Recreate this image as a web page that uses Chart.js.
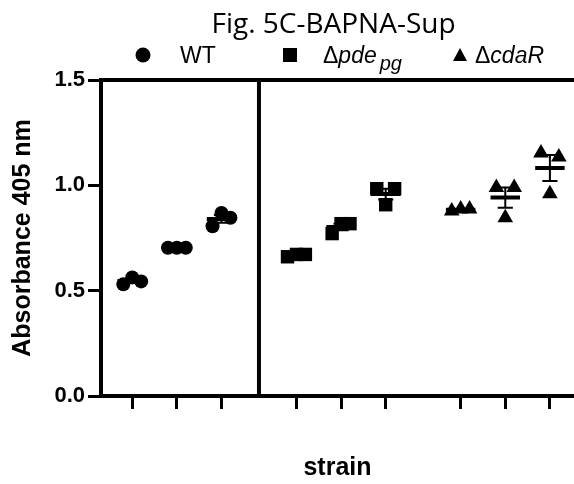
<!DOCTYPE html>
<html>
<head>
<meta charset="utf-8">
<script src="https://cdn.jsdelivr.net/npm/chart.js@4"></script>
<style>
  html, body { margin: 0; padding: 0; background: #fff; overflow: hidden; }
  canvas { display: block; }
</style>
</head>
<body>
<canvas id="bapnaSup" width="574" height="484"></canvas>
<script>
// x slots for the nine strains (3 x WT, 3 x Δpde_pg, 3 x ΔcdaR)
const slots = [1, 2, 3, 4.68, 5.68, 6.68, 8.36, 9.36, 10.36];

// replicate values
const wtValues = [[0.530, 0.563, 0.544], [0.704, 0.704, 0.704], [0.806, 0.869, 0.846]];
const pdeValues = [[0.661, 0.672, 0.672], [0.771, 0.818, 0.818], [0.984, 0.908, 0.984]];
const cdaValues = [[0.878, 0.888, 0.888], [0.990, 0.846, 0.990], [1.153, 0.960, 1.134]];

const yTicks = [0, 0.5, 1.0, 1.5];
const titleText = 'Fig. 5C-BAPNA-Sup';
const axisFont = '"Liberation Sans", Arial, sans-serif';

const jitter = [-0.2, 0, 0.2];
const meanHalf = 0.33;
const capHalf = 0.17;

const allGroups = wtValues.concat(pdeValues, cdaValues);

function toPoints(groups, first) {
    return groups.flatMap((g, i) => g.map((v, j) => ({ x: slots[first + i] + jitter[j], y: v })));
}

function mean(a) { return a.reduce((s, v) => s + v, 0) / a.length; }
function sem(a) {
    const m = mean(a);
    const sd = Math.sqrt(a.reduce((s, v) => s + (v - m) * (v - m), 0) / (a.length - 1));
    return sd / Math.sqrt(a.length);
}

const meanSegs = [];
const errSegs = [];
allGroups.forEach((g, i) => {
    const x = slots[i], m = mean(g), e = sem(g);
    meanSegs.push({ x: x - meanHalf, y: m }, { x: x + meanHalf, y: m }, { x: x, y: null });
    errSegs.push(
        { x: x - capHalf, y: m + e }, { x: x + capHalf, y: m + e }, { x: x, y: null },
        { x: x, y: m + e }, { x: x, y: m - e }, { x: x, y: null },
        { x: x - capHalf, y: m - e }, { x: x + capHalf, y: m - e }, { x: x, y: null }
    );
});

const xMin = 0.3, xMax = 10.9;
const divider = (slots[2] + slots[3]) / 2;

const pointBase = {
    backgroundColor: '#000',
    borderColor: '#000',
    borderWidth: 0,
    showLine: false
};

const lineBase = {
    borderColor: '#000',
    pointRadius: 0,
    showLine: true,
    spanGaps: false,
    clip: false
};

const titleLegend = {
    id: 'titleLegend',
    afterDraw(chart) {
        const ctx = chart.ctx;
        const area = chart.chartArea;
        ctx.save();
        ctx.fillStyle = '#000';
        ctx.textBaseline = 'alphabetic';
        ctx.textAlign = 'center';
        ctx.font = '28px "Open Sans", sans-serif';
        ctx.fillText(titleText, (area.left + area.right) / 2 - 4, 33);

        const my = 55, base = 63;
        // circle
        ctx.beginPath();
        ctx.arc(143, my, 7.5, 0, Math.PI * 2);
        ctx.fill();
        // square
        ctx.fillRect(283, my - 7, 14, 14);
        // triangle
        ctx.beginPath();
        ctx.moveTo(460, my - 7);
        ctx.lineTo(467, my + 6);
        ctx.lineTo(453, my + 6);
        ctx.closePath();
        ctx.fill();

        ctx.textAlign = 'left';
        ctx.font = '23px ' + axisFont;
        ctx.fillText('WT', 180, base);

        let x = 323;
        ctx.fillText('Δ', x, base);
        x += ctx.measureText('Δ').width;
        ctx.font = 'italic 23px ' + axisFont;
        ctx.fillText('pde', x, base);
        x += ctx.measureText('pde').width;
        ctx.font = 'italic 20px ' + axisFont;
        ctx.fillText('pg', x + 3, base + 7);

        x = 475;
        ctx.font = '23px ' + axisFont;
        ctx.fillText('Δ', x, base);
        x += ctx.measureText('Δ').width;
        ctx.font = 'italic 23px ' + axisFont;
        ctx.fillText('cdaR', x, base);
        ctx.restore();
    }
};

const ctxBapna = document.getElementById('bapnaSup');

const configBapna = {
    type: 'scatter',
    data: {
        datasets: [
            { ...pointBase, label: 'WT', data: toPoints(wtValues, 0), pointStyle: 'circle', pointRadius: 7 },
            { ...pointBase, label: 'Δpde_pg', data: toPoints(pdeValues, 3), pointStyle: 'rect', pointRadius: 9.5 },
            { ...pointBase, label: 'ΔcdaR', data: toPoints(cdaValues, 6), pointStyle: 'triangle', pointRadius: 9 },
            { ...lineBase, label: 'mean', data: meanSegs, borderWidth: 4 },
            { ...lineBase, label: 'sem', data: errSegs, borderWidth: 2 },
            { ...lineBase, label: 'divider', data: [{ x: divider, y: 0 }, { x: divider, y: 1.5 }], borderWidth: 4 },
            { ...lineBase, label: 'top', data: [{ x: xMin, y: 1.5 }, { x: xMax, y: 1.5 }], borderWidth: 4 }
        ]
    },
    plugins: [titleLegend],
    options: {
        responsive: false,
        animation: false,
        devicePixelRatio: 1,
        layout: { autoPadding: false, padding: { top: 80, left: 0, right: 0, bottom: 0 } },
        plugins: {
            legend: { display: false },
            title: { display: false },
            tooltip: { enabled: false }
        },
        scales: {
            x: {
                type: 'linear',
                min: xMin,
                max: xMax,
                afterBuildTicks: s => { s.ticks = slots.map(v => ({ value: v })); },
                afterFit: s => { s.height = 88; },
                ticks: { display: false },
                grid: { drawOnChartArea: false, drawTicks: true, tickLength: 13, tickWidth: 3, tickColor: '#000' },
                border: { color: '#000', width: 4 },
                title: {
                    display: true,
                    text: 'strain',
                    color: '#000',
                    font: { family: axisFont, size: 25, weight: 'bold' },
                    padding: { top: 0, bottom: 1 }
                }
            },
            y: {
                min: 0,
                max: 1.5,
                afterBuildTicks: s => { s.ticks = yTicks.map(v => ({ value: v })); },
                afterFit: s => { s.width = 101; },
                ticks: {
                    callback: v => Number(v).toFixed(1),
                    color: '#000',
                    padding: 3,
                    font: { family: axisFont, size: 22, weight: 'bold' }
                },
                grid: { drawOnChartArea: false, drawTicks: true, tickLength: 13, tickWidth: 3, tickColor: '#000' },
                border: { color: '#000', width: 4 },
                title: {
                    display: true,
                    text: 'Absorbance 405 nm',
                    color: '#000',
                    font: { family: axisFont, size: 25, weight: 'bold' },
                    padding: { top: 8, bottom: 0 }
                }
            }
        }
    }
};

const chartBapna = new Chart(ctxBapna, configBapna);
</script>
</body>
</html>
